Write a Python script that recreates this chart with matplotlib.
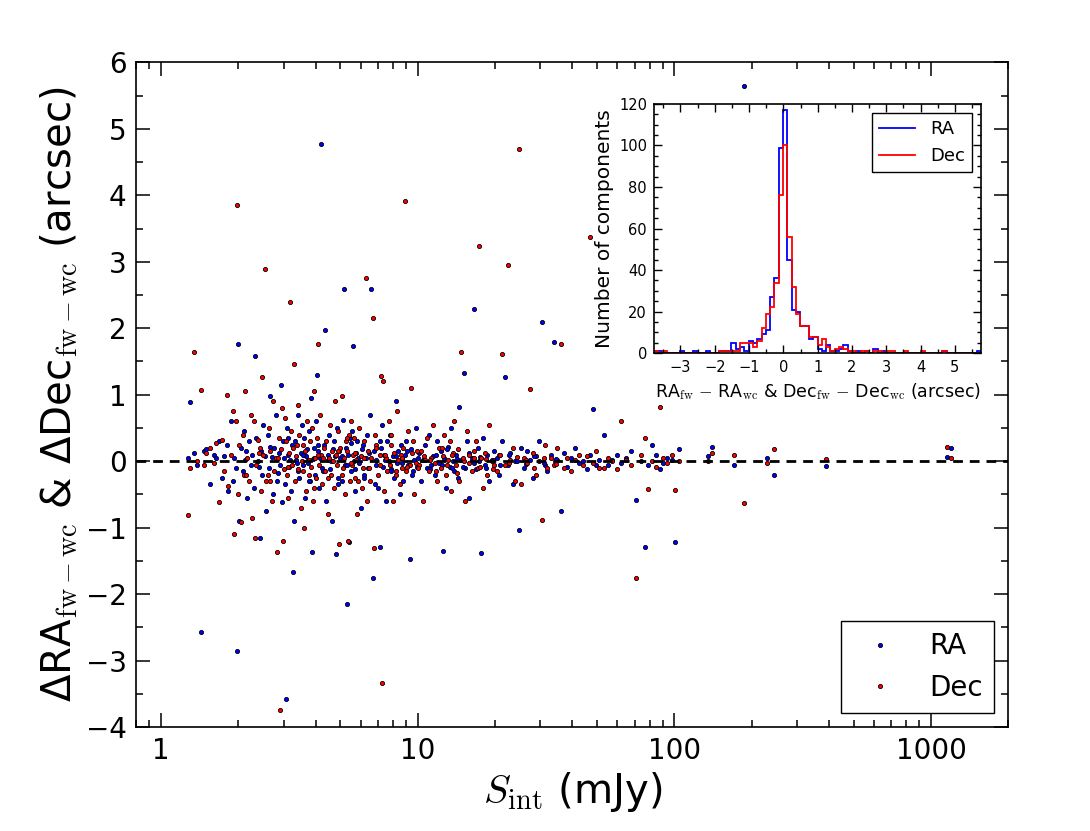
import matplotlib
matplotlib.use('Agg')
import matplotlib.pyplot as plt
import matplotlib.ticker as ticker
import numpy as np

plt.rcParams['mathtext.fontset'] = 'cm'

# integrated flux (mJy) of each component
flux = [
    1.27, 1.30, 1.34, 1.38, 1.43, 1.47, 1.50, 1.55, 1.60, 1.63,
    1.68, 1.72, 1.76, 1.80, 1.83, 1.87, 1.90, 1.93, 1.96, 1.98,
    2.00, 2.02, 2.05, 2.08, 2.10, 2.13, 2.16, 2.20, 2.23, 2.26,
    2.30, 2.32, 2.35, 2.38, 2.42, 2.45, 2.47, 2.50, 2.54, 2.57,
    2.60, 2.63, 2.66, 2.70, 2.73, 2.76, 2.80, 2.83, 2.87, 2.90,
    2.93, 2.96, 2.99, 3.02, 3.05, 3.07, 3.10, 3.13, 3.16, 3.18,
    3.20, 3.23, 3.26, 3.30, 3.33, 3.36, 3.40, 3.43, 3.46, 3.50,
    3.53, 3.56, 3.60, 3.63, 3.67, 3.70, 3.73, 3.76, 3.80, 3.83,
    3.87, 3.90, 3.93, 3.97, 4.00, 4.05, 4.10, 4.12, 4.15, 4.20,
    4.25, 4.30, 4.35, 4.40, 4.45, 4.50, 4.55, 4.60, 4.65, 4.70,
    4.75, 4.80, 4.85, 4.90, 4.95, 5.00, 5.05, 5.10, 5.15, 5.20,
    5.25, 5.30, 5.35, 5.40, 5.45, 5.50, 5.55, 5.60, 5.65, 5.70,
    5.75, 5.80, 5.90, 6.00, 6.05, 6.10, 6.20, 6.30, 6.35, 6.40,
    6.50, 6.60, 6.70, 6.75, 6.80, 6.90, 7.00, 7.10, 7.20, 7.25,
    7.30, 7.40, 7.50, 7.60, 7.70, 7.80, 7.90, 8.00, 8.10, 8.20,
    8.30, 8.40, 8.50, 8.60, 8.70, 8.80, 8.90, 9.00, 9.15, 9.30,
    9.40, 9.55, 9.70, 9.85, 9.95, 10.1, 10.3, 10.5, 10.7, 10.9,
    11.1, 11.3, 11.5, 11.7, 11.9, 12.1, 12.3, 12.5, 12.7, 12.9,
    13.1, 13.3, 13.5, 13.7, 13.9, 14.1, 14.3, 14.5, 14.8, 15.1,
    15.3, 15.6, 15.9, 16.2, 16.5, 16.8, 17.1, 17.4, 17.7, 18.0,
    18.3, 18.6, 19.0, 19.4, 19.8, 20.3, 20.8, 21.3, 21.8, 22.4,
    22.9, 23.5, 24.0, 24.7, 25.3, 26.0, 26.7, 27.4, 28.1, 28.8,
    29.6, 30.4, 31.2, 32.0, 33.0, 34.0, 35.0, 36.0, 37.0, 38.0,
    39.5, 41.0, 42.5, 44.0, 45.5, 47.0, 48.0, 49.5, 51.0, 53.0,
    55.0, 57.0, 60.0, 62.0, 65.0, 68.0, 71.0, 74.0, 77.0, 79.0,
    82.0, 85.0, 88.0, 90.0, 94.0, 98.0, 101., 104., 135., 140.,
    170., 187., 230., 245., 390., 1150, 1200]

# RA_fw - RA_wc (arcsec)
d_ra = [
    0.05, 0.89, 0.12, -0.05, -2.57, 0.15, 0.18, -0.35, 0.10, 0.05,
    0.30, -0.25, 0.08, 0.25, -0.45, 0.60, -0.30, 0.05, -0.10, -2.86,
    1.77, -0.90, 0.20, -0.15, 0.45, 0.02, -0.55, 0.30, -0.05, 0.10,
    -0.40, 1.59, 0.35, 0.00, -1.15, 0.15, -0.20, 0.55, 0.08, -0.75,
    0.40, -0.10, 0.98, 0.06, -0.50, 0.20, 0.70, -0.30, 0.12, -0.05,
    1.15, -0.62, 0.30, 0.05, -0.35, -3.58, 0.50, 0.10, -0.08, 0.02,
    -0.45, 0.25, -1.67, -0.90, 0.30, 0.02, -0.15, 0.70, -0.25, 0.12,
    0.55, -0.05, 0.35, -0.55, 0.08, 0.18, -0.02, 0.45, -0.30, 0.95,
    -1.36, 0.03, 0.20, -0.20, 0.60, 1.29, 0.15, -0.40, 0.05, 4.77,
    -0.10, 0.25, 1.98, -0.60, 0.10, 0.40, -0.12, 0.00, -0.90, 0.30,
    0.08, -1.40, 0.50, -0.25, 0.15, 0.05, -0.30, 0.62, 2.59, -0.05,
    0.20, -2.15, 0.10, -1.22, 0.35, -0.15, 0.45, 1.74, 0.00, -0.45,
    0.12, 0.30, -0.02, -0.70, 0.18, 0.25, -0.20, 0.05, 0.40, -0.10,
    0.70, 2.59, -1.76, 0.15, -0.35, 0.02, -0.40, -1.29, 0.20, 0.55,
    -0.08, 0.10, -0.60, 0.30, 0.00, 0.40, -0.12, 0.08, -0.25, 0.90,
    -0.02, 0.15, -0.50, 0.25, 0.05, -0.30, 0.10, 0.30, -0.05, -1.47,
    0.18, -0.15, 0.02, 0.50, -0.08, 0.12, -0.30, 0.02, 0.25, -0.10,
    0.40, -0.05, 0.08, -0.20, 0.30, -0.02, 0.15, -1.35, 0.05, -0.40,
    0.22, -0.08, 0.50, 0.00, -0.15, 0.10, -0.25, 0.82, 0.02, 1.32,
    -0.10, 0.30, -0.55, 0.05, 2.29, -0.12, 0.20, 0.00, -1.38, 0.35,
    -0.05, 0.10, -0.30, 0.02, 0.15, 0.05, -0.20, 0.30, 1.26, -0.05,
    0.12, -0.35, 0.00, -1.04, 0.20, -0.10, 0.15, 0.02, -0.25, 0.08,
    0.30, 2.09, -0.05, -0.15, 0.10, 1.80, 0.02, -0.75, 0.12, -0.08,
    0.05, 0.20, -0.02, 0.00, -0.12, 0.10, 0.78, -0.05, 0.02, 0.40,
    -0.05, 0.02, 0.10, -0.02, 0.05, 0.15, -0.59, 0.00, -1.29, -0.05,
    0.25, 0.10, -0.12, -0.02, 0.05, 0.02, -1.21, 0.18, 0.08, 0.22,
    -0.05, 5.65, 0.05, -0.20, -0.07, 0.07, 0.20]

# Dec_fw - Dec_wc (arcsec)
d_dec = [
    -0.81, -0.10, 1.65, 0.00, 1.07, -0.06, 0.12, 0.20, -0.02, 0.28,
    -0.62, 0.32, -0.15, 1.00, -0.38, 0.10, 0.75, -1.10, 0.60, 3.86,
    -0.50, 0.25, -0.92, 0.40, -0.20, 1.05, 0.05, -0.30, 0.70, -0.85,
    0.60, -1.15, -0.05, 0.32, 0.20, -0.45, 1.26, 0.10, 2.89, -0.30,
    -0.20, 0.50, 0.15, -0.60, 0.90, -0.15, 0.05, -1.37, 0.35, -3.74,
    0.18, 0.80, -1.20, -0.12, 0.65, 0.30, -0.20, -0.55, 0.12, 2.39,
    0.45, -0.05, 0.20, 1.46, -0.30, 0.08, 0.85, -0.12, 0.40, -0.70,
    0.00, 0.25, -1.00, 0.15, -0.45, 0.60, 0.02, -0.20, 0.30, -0.08,
    0.50, -0.60, 1.05, 0.05, -0.25, 0.35, 1.77, -0.05, 0.70, 0.10,
    -0.35, 0.20, -0.15, 0.30, -0.80, 0.05, 0.55, -0.20, 0.15, -0.40,
    0.90, 0.10, -0.05, 0.45, -1.25, 0.20, 0.98, -0.10, 0.05, -0.50,
    0.30, 0.15, -1.20, 0.40, -0.30, 0.60, -0.05, 0.10, 0.35, -0.25,
    0.02, -0.80, 0.50, 0.08, -0.40, -0.10, 0.30, 2.75, -0.60, 0.15,
    -0.30, 0.05, 2.15, -1.30, 0.40, 0.25, -0.20, 0.10, 1.28, -3.34,
    1.20, -0.45, 0.05, -0.15, 0.60, -0.05, 0.40, -0.60, 0.12, -0.20,
    0.75, 0.02, -0.35, 0.10, -0.10, 0.20, 3.92, -0.15, 0.45, -0.05,
    1.10, 0.30, -0.50, -0.02, 0.15, -0.05, 0.15, -0.60, 0.02, 0.35,
    -0.15, 0.05, 0.55, -0.02, -0.30, 0.20, -0.10, 0.08, 0.40, -0.20,
    0.02, 0.30, -0.45, 0.12, 0.60, -0.05, 0.18, -0.30, 1.64, 0.00,
    -0.60, 0.45, 0.10, -0.15, 0.05, 0.30, -0.10, 3.23, 0.05, -0.40,
    0.12, -0.20, 0.55, 0.00, -0.05, -0.15, 0.10, 1.62, -0.05, 2.95,
    0.02, 0.20, -0.30, 4.70, -0.35, 0.05, -0.02, 1.08, 0.12, -0.20,
    0.00, -0.89, 0.25, -0.10, 0.05, -0.05, 0.20, 1.77, -0.10, 0.05,
    -0.15, 0.02, 0.10, -0.05, 0.08, 3.37, -0.02, 0.15, -0.10, -0.10,
    0.05, 0.00, -0.12, 0.60, 0.02, -0.05, -1.75, 0.10, 0.35, -0.42,
    0.00, -0.08, 0.81, 0.05, -0.02, 0.10, -0.44, 0.00, 0.00, 0.12,
    0.10, -0.63, -0.02, 0.18, 0.03, 0.21, 0.05]

# extra components crowded around zero offset (2-35 mJy)
flux_core = [
    2.15, 2.40, 2.65, 2.85, 3.12, 3.38, 3.58, 3.78, 3.95, 4.08,
    4.28, 4.48, 4.68, 4.88, 5.08, 5.28, 5.48, 5.68, 5.85, 6.15,
    6.45, 6.85, 7.15, 7.45, 7.85, 8.25, 8.65, 9.05, 9.50, 10.0,
    10.6, 11.2, 11.8, 12.4, 13.0, 13.6, 14.2, 15.0, 15.8, 16.6,
    17.5, 18.5, 19.6, 21.0, 22.6, 24.3, 26.3, 28.5, 31.0, 34.5]
d_ra_core = [
    0.15, -0.08, 0.22, -0.18, 0.35, -0.02, 0.10, -0.30, 0.05, 0.25,
    -0.15, 0.02, 0.18, -0.35, 0.08, -0.05, 0.28, -0.12, 0.05, -0.25,
    0.12, -0.05, 0.30, 0.02, -0.15, 0.08, -0.02, 0.15, -0.20, 0.05,
    0.02, -0.12, 0.10, -0.05, 0.18, -0.10, 0.03, -0.08, 0.12, -0.02,
    0.06, -0.10, 0.02, -0.06, 0.10, 0.00, -0.04, 0.08, -0.02, 0.04]
d_dec_core = [
    -0.20, 0.12, -0.30, 0.05, -0.08, 0.25, -0.15, 0.02, -0.40, 0.10,
    0.05, -0.25, 0.00, 0.15, -0.20, 0.35, -0.02, 0.12, -0.30, 0.05,
    -0.10, 0.20, -0.05, 0.10, 0.25, -0.15, 0.05, -0.08, 0.12, -0.10,
    0.08, 0.02, -0.15, 0.20, -0.05, 0.10, -0.18, 0.05, -0.02, 0.15,
    -0.08, 0.04, -0.12, 0.10, -0.03, 0.06, 0.02, -0.10, 0.05, -0.04]

# inset histogram: 76 bins between the min and max offset
hist_lo, hist_hi, n_bins = -3.77, 5.76, 76
ra_counts = [1, 1, 0, 0, 0, 0, 1, 0, 0, 1,
             0, 0, 1, 0, 0, 1, 1, 1, 5, 2,
             3, 1, 6, 5, 7, 9, 11, 27, 36, 99,
             117, 45, 21, 20, 13, 13, 7, 8, 2, 1,
             4, 1, 1, 2, 4, 1, 0, 1, 0, 1,
             0, 2, 0, 1, 0, 0, 0, 0, 0, 0,
             0, 0, 0, 0, 0, 0, 0, 1, 0, 0,
             0, 0, 0, 0, 0, 1]
dec_counts = [1, 0, 1, 0, 0, 0, 0, 0, 0, 0,
              0, 0, 0, 0, 0, 1, 1, 1, 1, 1,
              5, 5, 5, 3, 6, 12, 19, 22, 34, 76,
              100, 56, 32, 19, 13, 13, 8, 8, 4, 7,
              3, 1, 2, 3, 2, 1, 1, 0, 1, 1,
              0, 1, 1, 0, 1, 1, 0, 0, 1, 0,
              0, 0, 1, 0, 0, 0, 0, 1, 0, 0,
              0, 0, 0, 0, 0, 0]

all_flux = flux + flux_core
all_ra = d_ra + d_ra_core
all_dec = d_dec + d_dec_core

fig = plt.figure(figsize=(10.9, 8.31), dpi=100)
ax = fig.add_axes([0.125, 0.125, 0.8, 0.8])

ax.plot(all_flux, all_ra, 'o', ls='none', mfc='b', mec='k', mew=0.6, ms=3.0, label='RA')
ax.plot(all_flux, all_dec, 'o', ls='none', mfc='r', mec='k', mew=0.6, ms=3.0, label='Dec')
ax.axhline(0, color='k', ls='--', lw=2, dashes=(3.5, 2.5))

ax.set_xscale('log')
ax.set_xlim(0.8, 2000)
ax.set_ylim(-4, 6)
ax.xaxis.set_major_formatter(ticker.FormatStrFormatter('%g'))
ax.xaxis.set_minor_formatter(ticker.NullFormatter())
ax.yaxis.set_major_locator(ticker.MultipleLocator(1))
ax.yaxis.set_minor_locator(ticker.MultipleLocator(0.5))
ax.tick_params(which='both', direction='in', top=True, right=True, width=1.1)
ax.tick_params(which='major', length=10, labelsize=20, pad=7)
ax.tick_params(which='minor', length=5)
for s in ax.spines.values():
    s.set_linewidth(1.2)

ax.set_xlabel(r'$S_{\rm int}$ (mJy)', fontsize=29)
ax.set_ylabel('Δ' + r'RA$_{\rm fw-wc}$ & ' + 'Δ' + r'Dec$_{\rm fw-wc}$ (arcsec)', fontsize=29)

leg = ax.legend(loc='lower right', numpoints=1, fontsize=20, fancybox=False,
                edgecolor='k', framealpha=1, handlelength=2, handletextpad=0.8)
leg.get_frame().set_linewidth(1.0)

# inset
ax2 = fig.add_axes([0.6, 0.575, 0.3, 0.3])
edges = np.linspace(hist_lo, hist_hi, n_bins + 1)
ax2.stairs(ra_counts, edges, color='b', lw=1.3, label='RA')
ax2.stairs(dec_counts, edges, color='r', lw=1.3, label='Dec')
ax2.set_xlim(hist_lo, hist_hi)
ax2.set_ylim(0, 120)
ax2.xaxis.set_major_locator(ticker.MultipleLocator(1))
ax2.xaxis.set_minor_locator(ticker.MultipleLocator(0.5))
ax2.yaxis.set_major_locator(ticker.MultipleLocator(20))
ax2.yaxis.set_minor_locator(ticker.MultipleLocator(5))
ax2.tick_params(which='both', direction='in', top=True, right=True, width=1)
ax2.tick_params(which='major', length=6, labelsize=10.5, pad=5)
ax2.tick_params(which='minor', length=3)
for s in ax2.spines.values():
    s.set_linewidth(1.2)
ax2.set_xlabel(r'RA$_{\rm fw}$ $-$ RA$_{\rm wc}$ & Dec$_{\rm fw}$ $-$ Dec$_{\rm wc}$ (arcsec)', fontsize=12.5)
ax2.set_ylabel('Number of components', fontsize=14.5)
leg2 = ax2.legend(loc='upper right', fontsize=13, fancybox=False, edgecolor='k',
                  framealpha=1, handlelength=2)
leg2.get_frame().set_linewidth(1.0)

fig.savefig('out.png', dpi=100)
